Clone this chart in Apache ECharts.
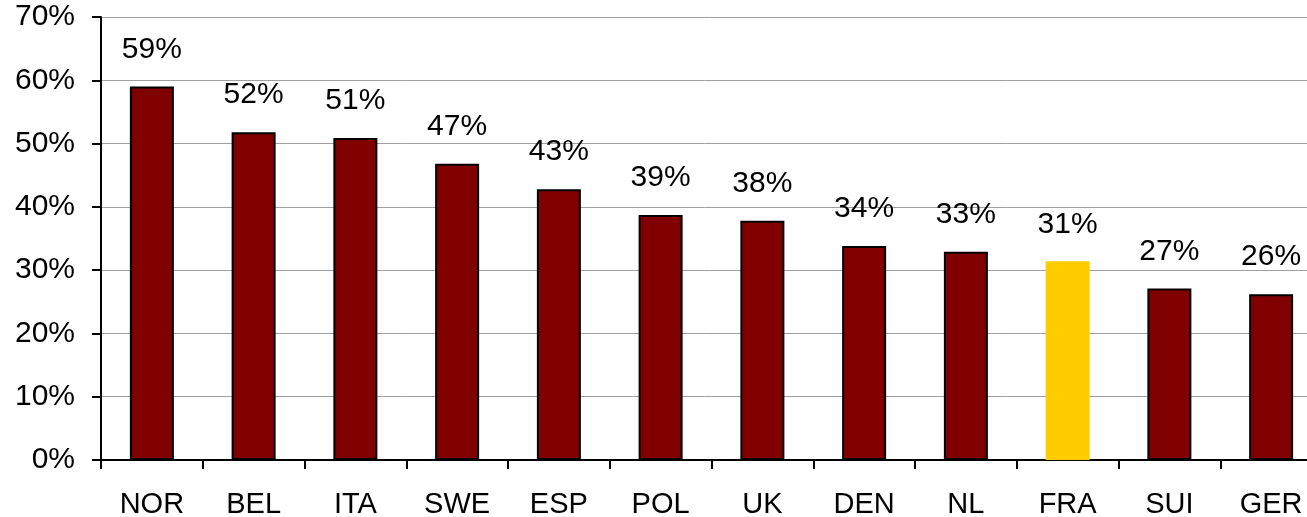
<!DOCTYPE html>
<html><head><meta charset="utf-8">
<script src="https://cdn.jsdelivr.net/npm/echarts@6/dist/echarts.min.js"></script>
<style>html,body{margin:0;padding:0;background:#fff}#c{width:1307px;height:517px}</style>
</head><body><div id="c"></div>
<script>
const categories = ['NOR','BEL','ITA','SWE','ESP','POL','UK','DEN','NL','FRA','SUI','GER'];
const values = [59.0, 51.8, 50.9, 46.8, 42.8, 38.7, 37.8, 33.8, 32.9, 31.4, 27.1, 26.2];
const highlight = 'FRA';
const yTicks = [0, 10, 20, 30, 40, 50, 60, 70];

const font = 'Liberation Sans, Arial, sans-serif';
const chart = echarts.init(document.getElementById('c'), null, {renderer: 'canvas'});
chart.setOption({
  animation: false,
  backgroundColor: '#fff',
  grid: {left: 101, top: 17, bottom: 57, right: -15, containLabel: false, outerBoundsMode: 'none'},
  xAxis: {
    type: 'category', data: categories,
    axisLine: {lineStyle: {color: '#000', width: 2}},
    axisTick: {show: true, length: 9, lineStyle: {color: '#000', width: 2}},
    axisLabel: {color: '#000', fontSize: 29, fontFamily: font, margin: 30}
  },
  yAxis: {
    type: 'value', min: yTicks[0], max: yTicks[yTicks.length - 1], interval: 10,
    axisLine: {show: true, lineStyle: {color: '#000', width: 2}},
    axisTick: {show: true, length: 9, lineStyle: {color: '#000', width: 2}},
    axisLabel: {color: '#000', fontSize: 30, fontFamily: font, margin: 26, formatter: v => v + '%'},
    splitLine: {show: true, lineStyle: {color: '#a0a0a0', width: 1}}
  },
  series: [{
    type: 'bar', barWidth: 44,
    data: categories.map((c, i) => ({
      value: values[i],
      itemStyle: c === highlight
        ? {color: '#FFCC00', borderWidth: 0}
        : {color: '#800000', borderColor: '#000', borderWidth: 2}
    })),
    label: {
      show: true, position: 'top', distance: 22,
      color: '#000', fontSize: 30, fontFamily: font,
      formatter: p => Math.round(p.value) + '%'
    }
  }]
});
</script></body></html>
